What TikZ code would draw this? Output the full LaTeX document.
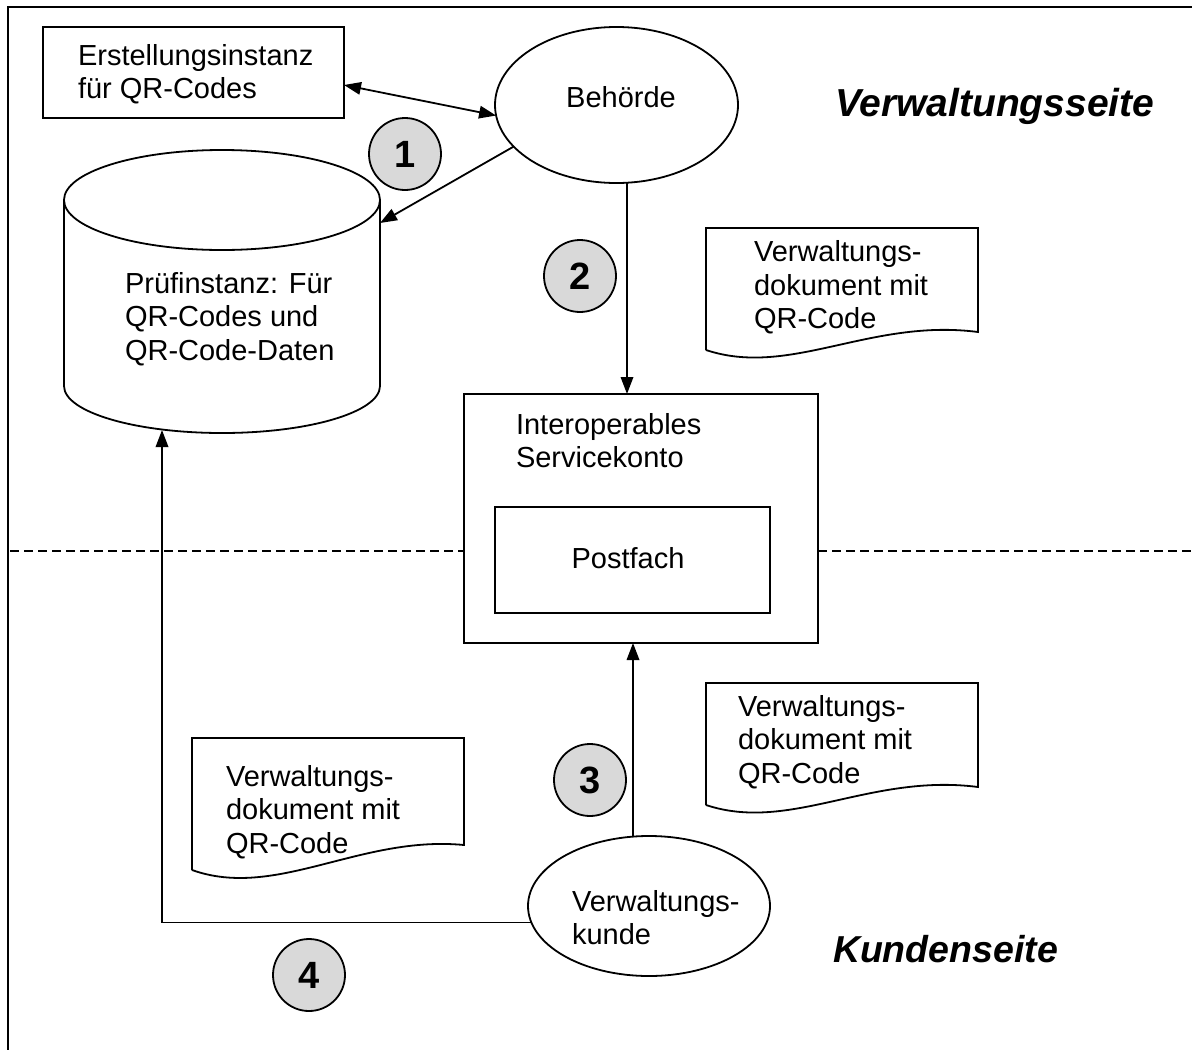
\documentclass[tikz,border=0pt]{standalone}
\usepackage{fontspec}
\setmainfont{Liberation Sans}
\usetikzlibrary{arrows.meta,shapes.geometric}
\definecolor{numgray}{RGB}{217,217,217}

% left-aligned multi-line block whose baseline is the first line
\newcommand{\linesblock}[1]{\begin{tabular}[t]{@{}l@{}}#1\end{tabular}}

\begin{document}
\begin{tikzpicture}[x=1pt,y=-1pt,
  line width=1.8pt,
  every node/.style={inner sep=0pt, outer sep=0pt},
  txt/.style={font=\fontsize{29}{33.5}\selectfont, anchor=base west},
  side/.style={font=\fontsize{39}{44}\selectfont\bfseries\itshape, anchor=base west},
  boxs/.style={draw, fill=white, rectangle, anchor=north west},
  oval/.style={draw, fill=white, ellipse},
  num/.style={draw, circle, fill=numgray, minimum size=72pt,
    font=\fontsize{38}{44}\selectfont\bfseries},
  arr/.style={-{Triangle[length=17pt,width=12.5pt]}},
  dblarr/.style={{Triangle[length=17pt,width=12.5pt]}-{Triangle[length=17pt,width=12.5pt]}},
  sep/.style={line width=1.5pt, dash pattern=on 9pt off 5pt},
]
\useasboundingbox[fill=white] (0,0) rectangle (1192,1050);

% outer frame (left and top edges)
\draw[line width=2pt] (8,1060) -- (8,7) -- (1200,7);

% administration side
\node[boxs, minimum width=301pt, minimum height=91pt] (erst) at (43,27) {};
\node[txt] (erstt) at (78,65) {\linesblock{Erstellungsinstanz\\für QR-Codes}};

\node[oval, minimum width=243pt, minimum height=156pt] (beh) at (616.5,105) {};
\node[txt, anchor=base] (beht) at (621,107) {Behörde};

% database cylinder
\draw[fill=white] (64,200) -- (64,386)
  arc[start angle=180, end angle=360, x radius=158pt, y radius=47pt]
  -- (380,200)
  arc[start angle=0, end angle=180, x radius=158pt, y radius=50pt] -- cycle;
\draw (64,200) arc[start angle=180, end angle=360, x radius=158pt, y radius=50pt];
\coordinate (cylside) at (380,223);
\coordinate (cylbot) at (162,430);
\node[txt] (prueft) at (125,293) {\linesblock{Prüfinstanz: Für\\QR-Codes und\\QR-Code-Daten}};

% document 1
\draw[fill=white] (706,350) -- (706,228) -- (978,228) -- (978,332)
  .. controls (870,318) and (790,378) .. (706,350);
\node[txt] (doc1t) at (754,261.5) {\linesblock{Verwaltungs-\\dokument mit\\QR-Code}};

% service account with mailbox
\node[boxs, minimum width=354pt, minimum height=249pt] (konto) at (464,394) {};
\node[txt] (kontot) at (516,434) {\linesblock{Interoperables\\Servicekonto}};
\node[boxs, minimum width=275pt, minimum height=106pt] (post) at (495,507) {};
\node[txt, anchor=base] (postt) at (628,568) {Postfach};

% border between the two sides
\coordinate (sepl) at (10,551);
\coordinate (sepr) at (1192,551);
\draw[sep] (sepl) -- (sepl -| konto.west);
\draw[sep] (konto.east |- sepr) -- (sepr);

% customer side
\draw[fill=white] (706,805) -- (706,683) -- (978,683) -- (978,787)
  .. controls (870,773) and (790,833) .. (706,805);
\node[txt] (doc2t) at (738,716) {\linesblock{Verwaltungs-\\dokument mit\\QR-Code}};

\draw[fill=white] (192,870) -- (192,738) -- (464,738) -- (464,845)
  .. controls (360,835) and (276,900) .. (192,870);
\node[txt] (doc3t) at (226,786) {\linesblock{Verwaltungs-\\dokument mit\\QR-Code}};

\node[oval, minimum width=242pt, minimum height=140pt] (kunde) at (649,906) {};
\node[txt] (kundet) at (572,911) {\linesblock{Verwaltungs-\\kunde}};

% connectors
\draw[dblarr] ([yshift=-12.5pt]erst.east) -- (beh.185);
\draw[arr] (beh.202) -- (cylside);
\draw[arr] ([xshift=10.5pt]beh.south) -- ([xshift=-14pt]konto.north);
\draw[arr] ([xshift=-16pt]kunde.north) -- ([xshift=-8pt]konto.south);
\draw[arr] (kunde.188) -| (cylbot);

% step numbers
\node[num] (n1) at (405,154) {1};
\node[num] (n2) at (580,276) {2};
\node[num] (n3) at (590,780) {3};
\node[num] (n4) at (309,975) {4};

% side labels
\node[side] (vseite) at (835,116) {Verwaltungsseite};
\node[side, font=\fontsize{37.5}{44}\selectfont\bfseries\itshape] (kseite) at (833,962) {Kundenseite};
\end{tikzpicture}
\end{document}
